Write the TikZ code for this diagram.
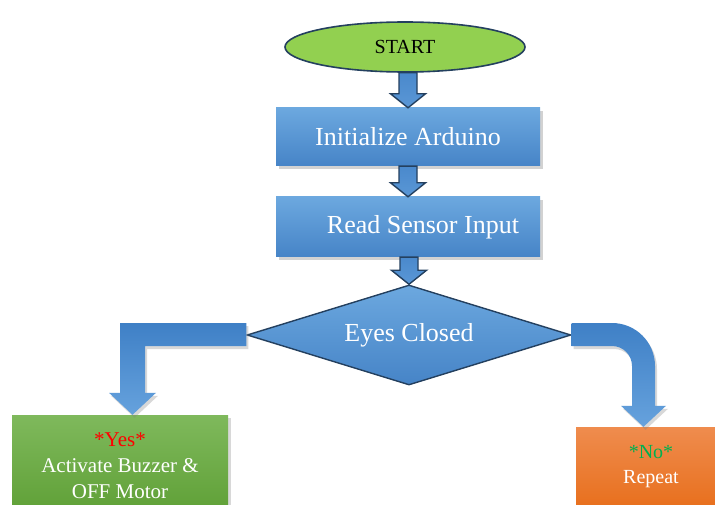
\documentclass[tikz,border=0pt]{standalone}
\usepackage{fontspec}
\setmainfont{Liberation Serif}
\usetikzlibrary{shapes.geometric,shadows,calc}
\definecolor{boxtop}{HTML}{6CA8DF}
\definecolor{boxbot}{HTML}{4684C7}
\definecolor{arrtop}{HTML}{4A89CC}
\definecolor{arrbot}{HTML}{5A97D6}
\definecolor{darkline}{HTML}{24405F}
\definecolor{startgreen}{HTML}{92D050}
\definecolor{greentop}{HTML}{7FB95C}
\definecolor{greenbot}{HTML}{5E9F35}
\definecolor{orangetop}{HTML}{EF8C4E}
\definecolor{orangebot}{HTML}{E8701E}
\definecolor{yesred}{HTML}{FF0000}
\definecolor{nogreen}{HTML}{00B050}
\definecolor{elbtop}{HTML}{3F80C6}
\definecolor{elbbot}{HTML}{66A2DD}
\newcommand\blockdown[2]{%
  \draw[barrow] let \p1=(#1.south), \p2=(#2.north) in
    (\x2-9pt,\y1) -- (\x2-9pt,\y2+14pt) -- (\x2-17.5pt,\y2+14pt) -- (\x2,\y2)
    -- (\x2+17.5pt,\y2+14pt) -- (\x2+9pt,\y2+14pt) -- (\x2+9pt,\y1) -- cycle;}
\begin{document}
\begin{tikzpicture}[x=1pt,y=1pt,
  startnode/.style={ellipse, draw=darkline, line width=1.6pt, fill=startgreen,
    minimum width=240, minimum height=50, inner sep=0pt,
    font=\fontsize{20}{24}\selectfont},
  procbox/.style={rectangle, top color=boxtop, bottom color=boxbot, draw=none,
    minimum width=264, minimum height=58, inner sep=0pt, text=white,
    font=\fontsize{26}{30}\selectfont,
    drop shadow={opacity=0.35, shadow xshift=3pt, shadow yshift=-3pt}},
  decnode/.style={diamond, aspect=3.24, draw=darkline, line width=1.4pt,
    top color=boxtop, bottom color=boxbot, inner sep=0pt,
    minimum width=324, minimum height=100, text=white,
    font=\fontsize{26}{30}\selectfont},
  yesbox/.style={rectangle, top color=greentop, bottom color=greenbot, draw=none,
    minimum width=216, minimum height=102, inner sep=0pt, text=white, align=center,
    font=\fontsize{21}{26}\selectfont,
    drop shadow={opacity=0.3, shadow xshift=3pt, shadow yshift=-3pt}},
  nobox/.style={rectangle, top color=orangetop, bottom color=orangebot, draw=none,
    minimum width=150, minimum height=79, inner sep=0pt, text=white, align=center,
    font=\fontsize{20}{25}\selectfont,
    drop shadow={opacity=0.3, shadow xshift=3pt, shadow yshift=-3pt}},
  barrow/.style={draw=darkline, line width=1.4pt, line join=miter,
    top color=arrtop, bottom color=arrbot},
  elbow/.style={top color=elbtop, bottom color=elbbot, draw=none,
    drop shadow={opacity=0.3, shadow xshift=2pt, shadow yshift=-3pt}}
]
\useasboundingbox (0,0) rectangle (715,504);
\fill[white] (0,0) rectangle (715,504);
% nodes
\node[procbox] (init) at (408,367) {Initialize Arduino};
\node[procbox, minimum height=60] (read) at (408,277) {\hspace*{30pt}Read Sensor Input};
\node[decnode] (dec) at (409,169) {Eyes Closed};
\node[yesbox] (yes) at (120,38) {\textcolor{yesred}{*Yes*}\\Activate Buzzer \&\\OFF Motor};
\node[nobox] (no) at (651,37.5) {\textcolor{nogreen}{*No*}\\Repeat};
\node[startnode] (start) at (405,457) {START};
% straight block arrows
\blockdown{start}{init}
\blockdown{init}{read}
\blockdown{read}{dec}
% elbow arrows
\path[elbow] let \p1=(dec.west), \p2=(yes.north) in
  (\x1,\y1+12pt) -- (\x2,\y1+12pt) -- (\x2,\y2+22pt) -- (\x2-11pt,\y2+22pt)
  -- (\x2+12.5pt,\y2) -- (\x2+36pt,\y2+22pt) -- (\x2+25pt,\y2+22pt)
  -- (\x2+25pt,\y1-11pt) -- (\x1,\y1-11pt) -- cycle;
\path[elbow] let \p1=(dec.east), \p2=(no.north) in
  (\x1,\y1+12pt) -- (\x2-39pt,\y1+12pt) arc[start angle=90,end angle=0,radius=43pt]
  -- (\x2+4pt,\y2+21pt) -- (\x2+15pt,\y2+21pt) -- (\x2-7.5pt,\y2)
  -- (\x2-30pt,\y2+21pt) -- (\x2-19pt,\y2+21pt) -- (\x2-19pt,\y1-31pt)
  arc[start angle=0,end angle=90,radius=20pt] -- (\x1,\y1-11pt) -- cycle;
\end{tikzpicture}
\end{document}
